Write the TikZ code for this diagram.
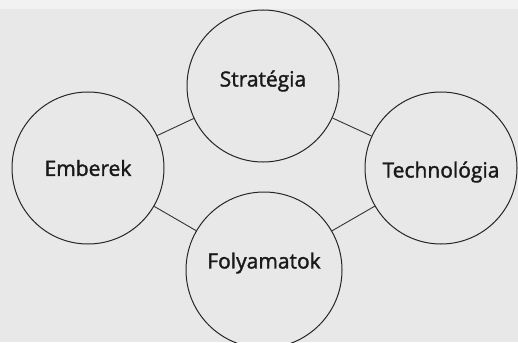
\documentclass[tikz,border=0pt]{standalone}
\usepackage{fontspec}
\setmainfont{Open Sans}
\newfontfamily\labfont{Open Sans}[FakeBold=1.6]
\begin{document}
\begin{tikzpicture}[x=1pt,y=-1pt,
  circ/.style={circle,draw=black!85,line width=1pt,minimum size=152pt,inner sep=0pt},
  lab/.style={font=\labfont\fontsize{21}{24}\selectfont,text=black!90,inner sep=0pt},
  conn/.style={draw=black!80,line width=0.9pt}]
\fill[black!9] (0,0) rectangle (518,342);
\fill[black!5] (0,0) rectangle (518,9);
\useasboundingbox (0,0) rectangle (518,342);
\node[circ] (s) at (263,86) {};
\node[circ] (e) at (88,168) {};
\node[circ] (t) at (441,168) {};
\node[circ,minimum size=156pt] (f) at (264,270) {};
\node[lab] (sl) at ([yshift=5pt]s.center) {Stratégia};
\node[lab] (el) at ([yshift=0pt]e.center) {Emberek};
\node[lab] (tl) at ([yshift=-4pt]t.center) {Technológia};
\node[lab] (fl) at ([yshift=7pt]f.center) {Folyamatok};
\draw[conn] (s) -- (e);
\draw[conn] (s) -- (t);
\draw[conn] (e) -- (f);
\draw[conn] (f) -- (t);
\end{tikzpicture}
\end{document}
